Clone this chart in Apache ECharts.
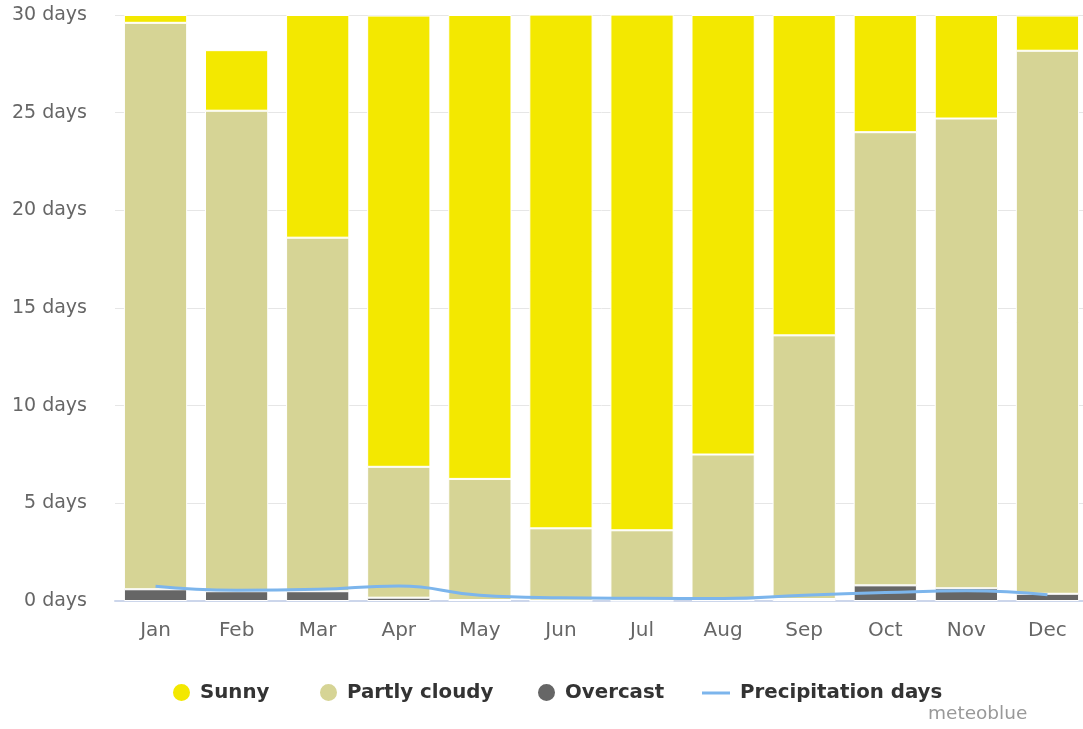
<!DOCTYPE html>
<html>
<head>
<meta charset="utf-8">
<script src="https://cdn.jsdelivr.net/npm/echarts@6/dist/echarts.min.js"></script>
<style>
  html, body { margin: 0; padding: 0; background: #fff; overflow: hidden; }
  #chart { width: 1095px; height: 729px; }
</style>
</head>
<body>
<div id="chart"></div>
<script>
// Monthly cloud cover and precipitation days
const months = ['Jan', 'Feb', 'Mar', 'Apr', 'May', 'Jun', 'Jul', 'Aug', 'Sep', 'Oct', 'Nov', 'Dec'];
const sunny = [0.4, 3.1, 11.4, 23.1, 23.75, 26.3, 26.4, 22.5, 16.4, 6.0, 5.3, 1.8];
const partlyCloudy = [29.0, 24.6, 18.1, 6.7, 6.2, 3.7, 3.6, 7.45, 13.5, 23.2, 24.05, 27.8];
const overcast = [0.6, 0.5, 0.5, 0.17, 0.05, 0.02, 0.02, 0.05, 0.1, 0.8, 0.65, 0.37];
const precipitationDays = [0.75, 0.55, 0.6, 0.77, 0.3, 0.17, 0.14, 0.13, 0.3, 0.43, 0.52, 0.32];
const yTicks = [0, 5, 10, 15, 20, 25, 30];

const FONT = '"DejaVu Sans", "Lucida Grande", Verdana, sans-serif';
const COLORS = { sunny: '#f3e800', partly: '#d6d495', overcast: '#666666', precip: '#7cb5ec' };

const chart = echarts.init(document.getElementById('chart'));

const legendText = { fontFamily: FONT, fontSize: 19.8, fontWeight: 'bold', color: '#333', padding: [0, 0, 0, 4] };
function circleLegend(name, left) {
  return {
    data: [{ name: name, icon: 'circle' }],
    left: left, top: 677, itemWidth: 19, itemHeight: 19, itemGap: 0,
    textStyle: legendText, selectedMode: false
  };
}

chart.setOption({
  animation: false,
  backgroundColor: '#fff',
  grid: { left: 115, top: 15, width: 973, height: 586, containLabel: false },
  legend: [
    circleLegend('Sunny', 166),
    circleLegend('Partly cloudy', 313),
    circleLegend('Overcast', 531),
    {
      data: [{ name: 'Precipitation days', icon: 'rect' }],
      left: 697, top: 678, itemWidth: 28, itemHeight: 3, itemGap: 0,
      textStyle: Object.assign({}, legendText, { padding: [0, 0, 0, 5] }), selectedMode: false
    }
  ],
  graphic: [{
    type: 'text', left: 928, top: 705,
    style: { text: 'meteoblue', fill: '#999', font: '18.5px ' + FONT }
  }],
  xAxis: {
    type: 'category',
    data: months,
    axisLine: { show: true, lineStyle: { color: '#ccd6eb', width: 2 } },
    axisTick: { show: false },
    axisLabel: { color: '#666', fontFamily: FONT, fontSize: 20, margin: 20 },
    splitLine: { show: false }
  },
  yAxis: {
    type: 'value',
    min: yTicks[0], max: yTicks[yTicks.length - 1], interval: 5,
    axisLine: { show: false },
    axisTick: { show: false },
    axisLabel: {
      color: '#666', fontFamily: FONT, fontSize: 19, margin: 28,
      formatter: v => v + ' days'
    },
    splitLine: { show: true, lineStyle: { color: '#e6e6e6', width: 1 } }
  },
  series: [
    {
      name: 'Overcast', type: 'bar', stack: 'cover', data: overcast,
      barCategoryGap: '22%',
      itemStyle: { color: COLORS.overcast, borderColor: '#fff', borderWidth: 1 }
    },
    {
      name: 'Partly cloudy', type: 'bar', stack: 'cover', data: partlyCloudy,
      itemStyle: { color: COLORS.partly, borderColor: '#fff', borderWidth: 1 }
    },
    {
      name: 'Sunny', type: 'bar', stack: 'cover', data: sunny,
      itemStyle: { color: COLORS.sunny, borderColor: '#fff', borderWidth: 1 }
    },
    {
      name: 'Precipitation days', type: 'line', data: precipitationDays,
      smooth: true, showSymbol: false, symbol: 'none',
      lineStyle: { color: COLORS.precip, width: 3 },
      itemStyle: { color: COLORS.precip },
      z: 5
    }
  ]
});
</script>
</body>
</html>
